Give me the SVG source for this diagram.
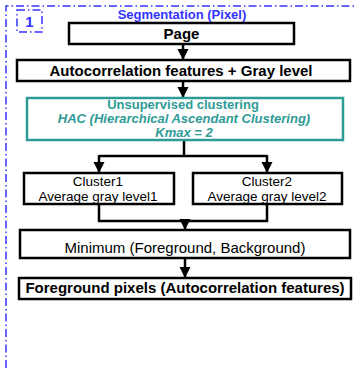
<svg xmlns="http://www.w3.org/2000/svg" width="357" height="368" viewBox="0 0 357 368">
<style>
.box{fill:#fff;stroke:#000;stroke-width:2.5}
.teal{fill:#fff;stroke:#2e9b96;stroke-width:2.5}
.bt{font-family:"Liberation Sans",Arial,sans-serif;font-weight:bold;font-size:15px;fill:#000;text-anchor:middle}
.rt{font-family:"Liberation Sans",Arial,sans-serif;font-size:13.5px;fill:#000;text-anchor:middle}
.tt{font-family:"Liberation Sans",Arial,sans-serif;font-weight:bold;font-size:13px;fill:#2e9b96;text-anchor:middle}
.frame{fill:none;stroke:#3333ff;stroke-width:1.5;stroke-dasharray:8 3 1.5 3}
.conn{fill:none;stroke:#000;stroke-width:2.5}
</style>
<defs>
<marker id="ah" markerWidth="11" markerHeight="12" refX="10" refY="5.5" orient="auto" markerUnits="userSpaceOnUse" viewBox="0 0 11 11">
<path d="M0,0 L11,5.5 L0,11 Z" fill="#000"/>
</marker>
</defs>
<g id="frame">
<path class="frame" d="M6,368 L6,6 L357,6"/>
<rect class="frame" x="17" y="10" width="25" height="22"/>
<text x="29.5" y="27" font-family="Liberation Sans,Arial,sans-serif" font-weight="bold" font-size="15" fill="#3333ff" text-anchor="middle">1</text>
<text x="182" y="19" font-family="Liberation Sans,Arial,sans-serif" font-weight="bold" font-size="13" fill="#3333ff" text-anchor="middle">Segmentation (Pixel)</text>
</g>
<g id="connectors">
<path class="conn" d="M183,44 L183,59" marker-end="url(#ah)"/>
<path class="conn" d="M183,81 L183,97" marker-end="url(#ah)"/>
<path class="conn" d="M184,140 L184,156"/>
<path class="conn" d="M99,156 L267,156"/>
<path class="conn" d="M99,155 L99,172" marker-end="url(#ah)"/>
<path class="conn" d="M267,155 L267,172" marker-end="url(#ah)"/>
<path class="conn" d="M99,204 L99,221 L267,221 L267,204"/>
<path class="conn" d="M185,220 L185,229" marker-end="url(#ah)"/>
<path class="conn" d="M185,258 L185,277" marker-end="url(#ah)"/>
</g>
<g id="page">
<rect class="box" x="69" y="23" width="225" height="21"/>
<text class="bt" x="181.5" y="39">Page</text>
</g>
<g id="autocorrelation">
<rect class="box" x="17" y="60" width="333" height="21"/>
<text class="bt" x="181" y="76">Autocorrelation features + Gray level</text>
</g>
<g id="clustering">
<rect class="teal" x="27" y="98" width="316" height="42"/>
<text class="tt" x="183" y="109">Unsupervised clustering</text>
<text class="tt" x="184" y="123" font-style="italic">HAC (Hierarchical Ascendant Clustering)</text>
<text class="tt" x="184" y="136.5" font-style="italic">Kmax = 2</text>
</g>
<g id="cluster1">
<rect class="box" x="24" y="173" width="150" height="31"/>
<text class="rt" x="98" y="185.5">Cluster1</text>
<text class="rt" x="98" y="200.5">Average gray level1</text>
</g>
<g id="cluster2">
<rect class="box" x="193" y="173" width="149" height="31"/>
<text class="rt" x="267" y="185.5">Cluster2</text>
<text class="rt" x="267" y="200.5">Average gray level2</text>
</g>
<g id="minimum">
<rect class="box" x="20" y="230" width="330" height="28"/>
<text class="rt" x="185" y="252.5" style="font-size:15px">Minimum (Foreground, Background)</text>
</g>
<g id="foreground">
<rect class="box" x="19" y="278" width="332" height="21"/>
<text class="bt" x="185" y="293">Foreground pixels (Autocorrelation features)</text>
</g>
</svg>
